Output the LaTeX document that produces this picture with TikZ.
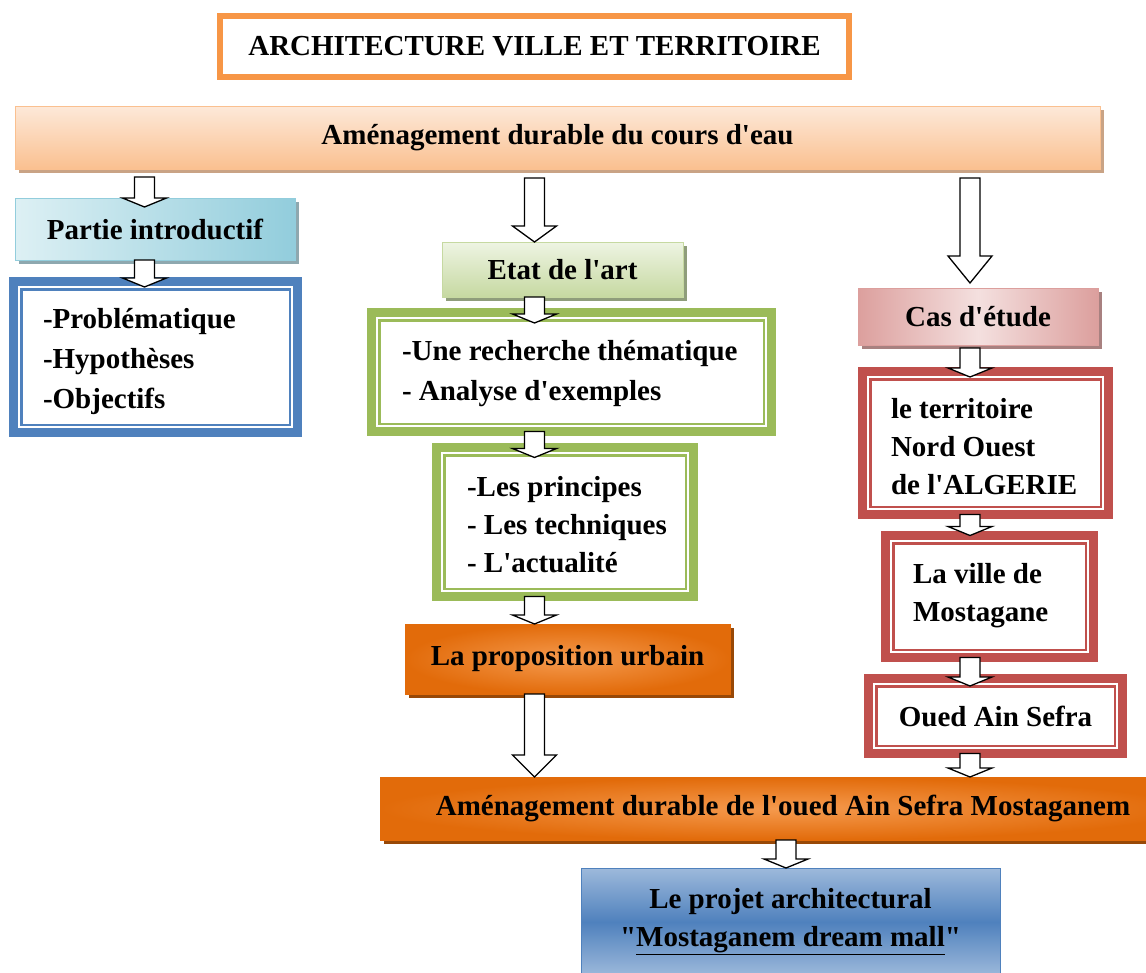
\documentclass[tikz,border=0pt]{standalone}
\usepackage{fontspec}
\setmainfont{Liberation Serif}[Ligatures=TeXOff]
\usetikzlibrary{calc, shadows}
\definecolor{cTitle}{HTML}{F79646}
\definecolor{cBanL}{HTML}{FDE9D9}
\definecolor{cBanD}{HTML}{FAC090}
\definecolor{cBanS}{HTML}{C9A385}
\definecolor{cParL}{HTML}{DDF0F4}
\definecolor{cParD}{HTML}{92CDDC}
\definecolor{cParS}{HTML}{8EA8AF}
\definecolor{cEtaL}{HTML}{EEF4E3}
\definecolor{cEtaD}{HTML}{C6D9A1}
\definecolor{cEtaS}{HTML}{8F9D7B}
\definecolor{cCasL}{HTML}{F4E0DF}
\definecolor{cCasD}{HTML}{DC9F9D}
\definecolor{cCasS}{HTML}{A88180}
\definecolor{cOraL}{HTML}{F59A4E}
\definecolor{cOraD}{HTML}{E26B0A}
\definecolor{cOraS}{HTML}{984807}
\definecolor{cPrjL}{HTML}{9DB9DB}
\definecolor{cBlue}{HTML}{4F81BD}
\definecolor{cGreen}{HTML}{9BBB59}
\definecolor{cRed}{HTML}{C0504D}
\tikzset{%
	big/.style = {font = \bfseries\fontsize{29}{#1}\selectfont},
	big/.default = 38,
	txt/.style = {big = #1, inner sep = 0pt, outer sep = 0pt, anchor = west, align = left},
	txt/.default = 38,
	head/.style = {rectangle, draw = cTitle, line width = 6pt, fill = white, outer sep = 0pt, big},
	grad/.style = {rectangle, draw = #1, line width = 0.6pt, outer sep = 0pt, big},
	shad/.style = {drop shadow = {shadow xshift = 4pt, shadow yshift = -4pt, opacity = 1, fill = #1}},
	dbox/.style = {rectangle, draw = #1, fill = white, line width = 9pt, outer sep = 0pt, big,
		path picture = {\draw [#1, line width = 2.5pt]
			([shift = {(7.75pt,-7.75pt)}]path picture bounding box.north west) rectangle
			([shift = {(-7.75pt,7.75pt)}]path picture bounding box.south east);}},
	hollow/.style = {draw = black, fill = white, line width = 1.3pt, line join = miter}
}
\newcommand{\harrow}[3][9]{%
	\draw [hollow] let \p1 = #2, \p2 = #3 in
		(\x2-10pt,\y1) -- (\x2+10pt,\y1) -- (\x2+10pt,\y2+#1pt) -- (\x2+22pt,\y2+#1pt)
		-- (\x2,\y2) -- (\x2-22pt,\y2+#1pt) -- (\x2-10pt,\y2+#1pt) -- cycle;}
\begin{document}
\begin{tikzpicture}[x = 1pt, y = -1pt]
	\useasboundingbox (0,0) rectangle (1146,972);
	\coordinate (colA) at (144.5,0);
	\coordinate (colB) at (534.5,0);
	\coordinate (colC) at (970,0);
	\coordinate (colD) at (786,0);
	\node [head, minimum width = 629pt, minimum height = 61pt] (titre) at (534.5,46.5) {ARCHITECTURE VILLE ET TERRITOIRE};
	\node [grad = cBanD, shad = cBanS, top color = cBanL, bottom color = cBanD, minimum width = 1085pt, minimum height = 63pt] (cours) at (557.5,137.5) {Aménagement durable du cours d'eau};
	\node [grad = cParD, shad = cParS, left color = cParL, right color = cParD, minimum width = 280pt, minimum height = 62pt] (partie) at (155,229) {Partie introductif};
	\node [dbox = cBlue, minimum width = 284pt, minimum height = 151pt] (probl) at (155.5,357) {};
	\node [txt = 40] (problT) at ([xshift = 29.5pt, yshift = -5pt]probl.west) {-Problématique\\-Hypothèses\\-Objectifs};
	\node [grad = cEtaD, shad = cEtaS, top color = cEtaL, bottom color = cEtaD, minimum width = 241pt, minimum height = 55pt] (etat) at (562.5,269.5) {Etat de l'art};
	\node [dbox = cGreen, minimum width = 400pt, minimum height = 119pt] (recherche) at (571.5,372) {};
	\node [txt = 40] (rechercheT) at ([xshift = 30.5pt, yshift = -2pt]recherche.west) {-Une recherche thématique\\- Analyse d'exemples};
	\node [dbox = cGreen, minimum width = 257pt, minimum height = 149pt] (principes) at (565,522) {};
	\node [txt] (principesT) at ([xshift = 30.5pt, yshift = -3pt]principes.west) {-Les principes\\- Les techniques\\- L'actualité};
	\node [grad = cOraD, shad = cOraS, inner color = cOraL, outer color = cOraD, minimum width = 325pt, minimum height = 70pt] (urbain) at (567.5,659) {La proposition urbain};
	\node [grad = cCasD, shad = cCasS, left color = cCasD, right color = cCasD, middle color = cCasL, minimum width = 240pt, minimum height = 57pt] (cas) at (978,316.5) {Cas d'étude};
	\node [dbox = cRed, minimum width = 246pt, minimum height = 143pt] (territoire) at (985.5,443) {};
	\node [txt] (territoireT) at ([xshift = 28.5pt, yshift = -4pt]territoire.west) {le territoire\\Nord Ouest\\de l'ALGERIE};
	\node [dbox = cRed, minimum width = 208pt, minimum height = 122pt] (ville) at (989.5,596.5) {};
	\node [txt] (villeT) at ([xshift = 27.5pt, yshift = 0.5pt]ville.west) {La ville de\\Mostagane};
	\node [dbox = cRed, minimum width = 254pt, minimum height = 75pt] (oued) at (995.5,716) {Oued Ain Sefra};
	\node [grad = cOraD, shad = cOraS, inner color = cOraL, outer color = cOraD, minimum width = 806pt, minimum height = 63pt] (amenag) at (783,808.5) {Aménagement durable de l'oued Ain Sefra Mostaganem};
	\node [grad = cBlue, top color = cPrjL, bottom color = cPrjL, middle color = cBlue, minimum width = 419pt, minimum height = 108pt, align = center] (projet) at (790.5,922) {Le projet architectural\\"\underline{Mostaganem dream mall}"};
	\harrow{($(cours.south -| colA)+(0,8)$)}{($(partie.north -| colA)+(0,9)$)}
	\harrow[16]{($(cours.south -| colB)+(0,9)$)}{(etat.north -| colB)}
	\harrow[27]{($(cours.south -| colC)+(0,9)$)}{($(cas.north -| colC)+(0,-5)$)}
	\harrow{(partie.south -| colA)}{($(probl.north -| colA)+(0,5.5)$)}
	\harrow{(etat.south -| colB)}{($(recherche.north -| colB)+(0,10.5)$)}
	\harrow{(recherche.south -| colB)}{($(principes.north -| colB)+(0,10)$)}
	\harrow{(principes.south -| colB)}{(urbain.north -| colB)}
	\harrow[22]{(urbain.south -| colB)}{(amenag.north -| colB)}
	\harrow{($(cas.south -| colC)+(0,3)$)}{($(territoire.north -| colC)+(0,5.5)$)}
	\harrow{(territoire.south -| colC)}{(ville.north -| colC)}
	\harrow{(ville.south -| colC)}{($(oued.north -| colC)+(0,7.5)$)}
	\harrow{(oued.south -| colC)}{(amenag.north -| colC)}
	\harrow{(amenag.south -| colD)}{(projet.north -| colD)}
\end{tikzpicture}
\end{document}
